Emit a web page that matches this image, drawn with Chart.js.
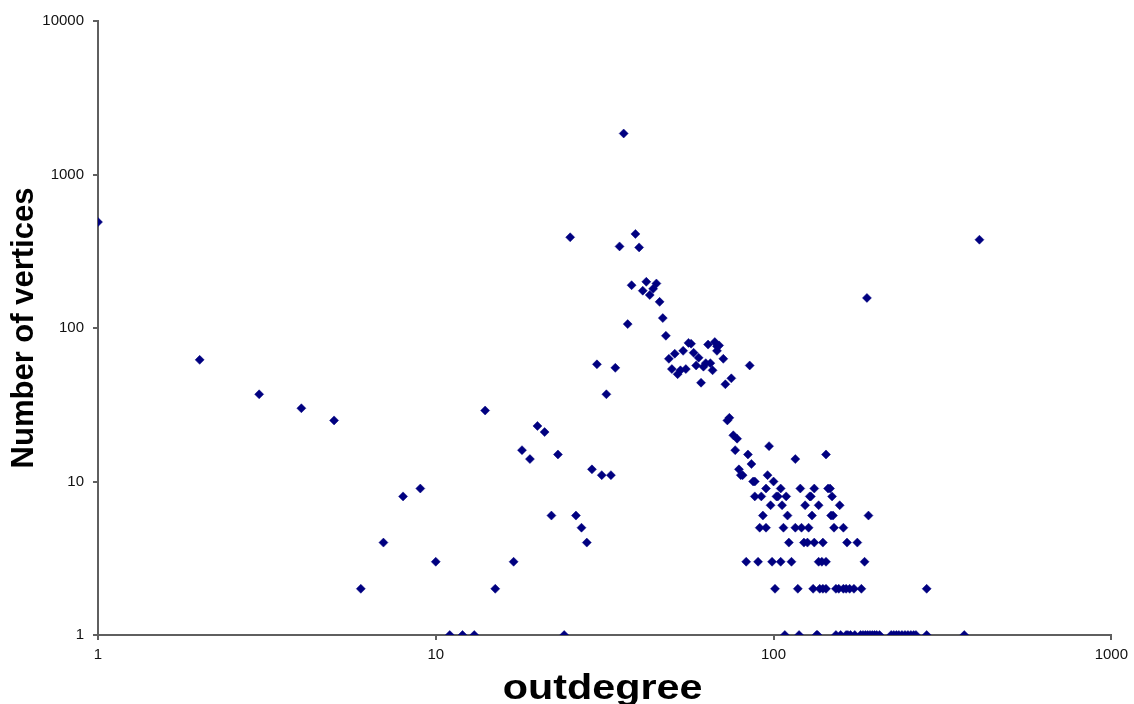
<!DOCTYPE html>
<html>
<head>
<meta charset="utf-8">
<script src="https://cdn.jsdelivr.net/npm/chart.js@4/dist/chart.umd.min.js"></script>
<style>
  html, body { margin: 0; padding: 0; background: #ffffff; }
  #wrap { width: 1134px; height: 704px; }
</style>
</head>
<body>
<div id="wrap"><canvas id="c" width="1134" height="704"></canvas></div>
<script>
// outdegree values (x) and number of vertices (y)
const outdegree = [
  1, 2, 3, 4, 5, 6, 7, 8, 9, 10, 11, 12, 13, 14, 15, 17, 18, 19, 20, 21, 22, 23, 24,
  25, 26, 27, 28, 29, 30, 31, 32, 33, 34, 35, 36, 37, 38, 39, 40, 41, 42, 43, 44, 45,
  46, 47, 48, 49, 50, 51, 52, 53, 54, 55, 56, 57, 58, 59, 60, 61, 62, 63, 64, 65, 66,
  67, 68, 69, 68, 71, 72, 73, 74, 75, 76, 77, 78, 79, 80, 81, 84, 85, 86, 87, 88, 96, 97, 100, 116, 143,
  95, 105, 120, 132, 145, 147,
  88, 92, 102, 103, 109, 128, 129, 149,
  98, 106, 124, 136, 157,
  93, 110, 130, 148, 150, 191,
  91, 95, 107, 116, 121, 127, 151, 161,
  111, 123, 126, 132, 140, 165, 177,
  83, 90, 99, 105, 113, 136, 139, 143, 186,
  101, 118, 131, 137, 140, 143, 153, 156, 161, 164, 168, 173, 182, 284,
  108, 119, 134, 135, 153, 158, 164, 166, 169, 174, 181, 184, 187, 190, 193, 196, 199, 202, 206,
  223, 227, 231, 235, 240, 245, 250, 255, 260, 264, 284, 367,
  189, 407
];
const vertices = [
  490, 62, 37, 30, 25, 2, 4, 8, 9, 3, 1, 1, 1, 29, 2, 3, 16, 14, 23, 21, 6, 15, 1,
  390, 6, 5, 4, 12, 58, 11, 37, 11, 55, 340, 1850, 106, 190, 410, 335, 175, 200, 164, 180, 195,
  148, 116, 89, 63, 54, 68, 50, 53, 71, 54, 80, 79, 69, 57, 64, 44, 56, 59, 78, 59, 53,
  81, 76, 77, 71, 63, 43, 25, 26, 47, 20, 16, 19, 12, 11, 11, 15, 57, 13, 10, 10, 11, 17, 10, 14, 15,
  9, 9, 9, 9, 9, 9,
  8, 8, 8, 8, 8, 8, 8, 8,
  7, 7, 7, 7, 7,
  6, 6, 6, 6, 6, 6,
  5, 5, 5, 5, 5, 5, 5, 5,
  4, 4, 4, 4, 4, 4, 4,
  3, 3, 3, 3, 3, 3, 3, 3, 3,
  2, 2, 2, 2, 2, 2, 2, 2, 2, 2, 2, 2, 2, 2,
  1, 1, 1, 1, 1, 1, 1, 1, 1, 1, 1, 1, 1, 1, 1, 1, 1, 1, 1,
  1, 1, 1, 1, 1, 1, 1, 1, 1, 1, 1, 1,
  157, 376
];
const xTicks = [1, 10, 100, 1000];
const yTicks = [1, 10, 100, 1000, 10000];
const xTitle = 'outdegree';
const yTitle = 'Number of vertices';

const points = outdegree.map((x, i) => ({ x: x, y: vertices[i] }));

const axisColor = '#5f5f5f';
const font = 'Liberation Sans, Arial, sans-serif';

// x-axis title drawn under the x scale, slightly widened like the original
const xTitlePlugin = {
  id: 'xTitle',
  afterDraw(chart) {
    const { ctx, chartArea } = chart;
    const cx = (chartArea.left + chartArea.right) / 2 - 2;
    const sx = 1.18;
    ctx.save();
    ctx.translate(cx, 699);
    ctx.scale(sx, 1);
    ctx.font = 'bold 35px ' + font;
    ctx.fillStyle = '#000';
    ctx.textAlign = 'center';
    ctx.textBaseline = 'alphabetic';
    ctx.fillText(xTitle, 0, 0);
    ctx.restore();
  }
};

new Chart(document.getElementById('c'), {
  type: 'scatter',
  data: {
    datasets: [{
      data: points,
      pointStyle: 'rectRot',
      pointRadius: 4.5,
      pointHoverRadius: 4.5,
      backgroundColor: '#000080',
      borderColor: '#000080',
      borderWidth: 0.5
    }]
  },
  plugins: [xTitlePlugin],
  options: {
    responsive: false,
    animation: false,
    events: [],
    layout: { padding: { left: 0, top: 21, right: 20, bottom: 0 } },
    plugins: { legend: { display: false }, tooltip: { enabled: false } },
    scales: {
      x: {
        type: 'logarithmic',
        min: 1, max: 1000,
        afterBuildTicks: s => { s.ticks = xTicks.map(v => ({ value: v })); },
        afterFit: s => { s.height = 69; },
        border: { display: true, color: axisColor, width: 2 },
        grid: { display: true, drawOnChartArea: false, drawTicks: true, tickLength: 5, color: axisColor, lineWidth: 2 },
        ticks: {
          autoSkip: false, maxRotation: 0, padding: 6,
          color: '#111', font: { family: font, size: 15 },
          callback: v => String(v)
        },
        title: { display: false, text: xTitle }
      },
      y: {
        type: 'logarithmic',
        min: 1, max: 10000,
        afterBuildTicks: s => { s.ticks = yTicks.map(v => ({ value: v })); },
        afterFit: s => { s.width = 98; },
        border: { display: true, color: axisColor, width: 2 },
        grid: { display: true, drawOnChartArea: false, drawTicks: true, tickLength: 5, color: axisColor, lineWidth: 2 },
        ticks: {
          autoSkip: false, padding: 9,
          color: '#111', font: { family: font, size: 15 },
          callback: v => String(v)
        },
        title: {
          display: true, text: yTitle, color: '#000',
          font: { family: font, size: 31, weight: 'bold', lineHeight: 1.0 },
          padding: { top: 9, bottom: 0 }
        }
      }
    }
  }
});
</script>
</body>
</html>
